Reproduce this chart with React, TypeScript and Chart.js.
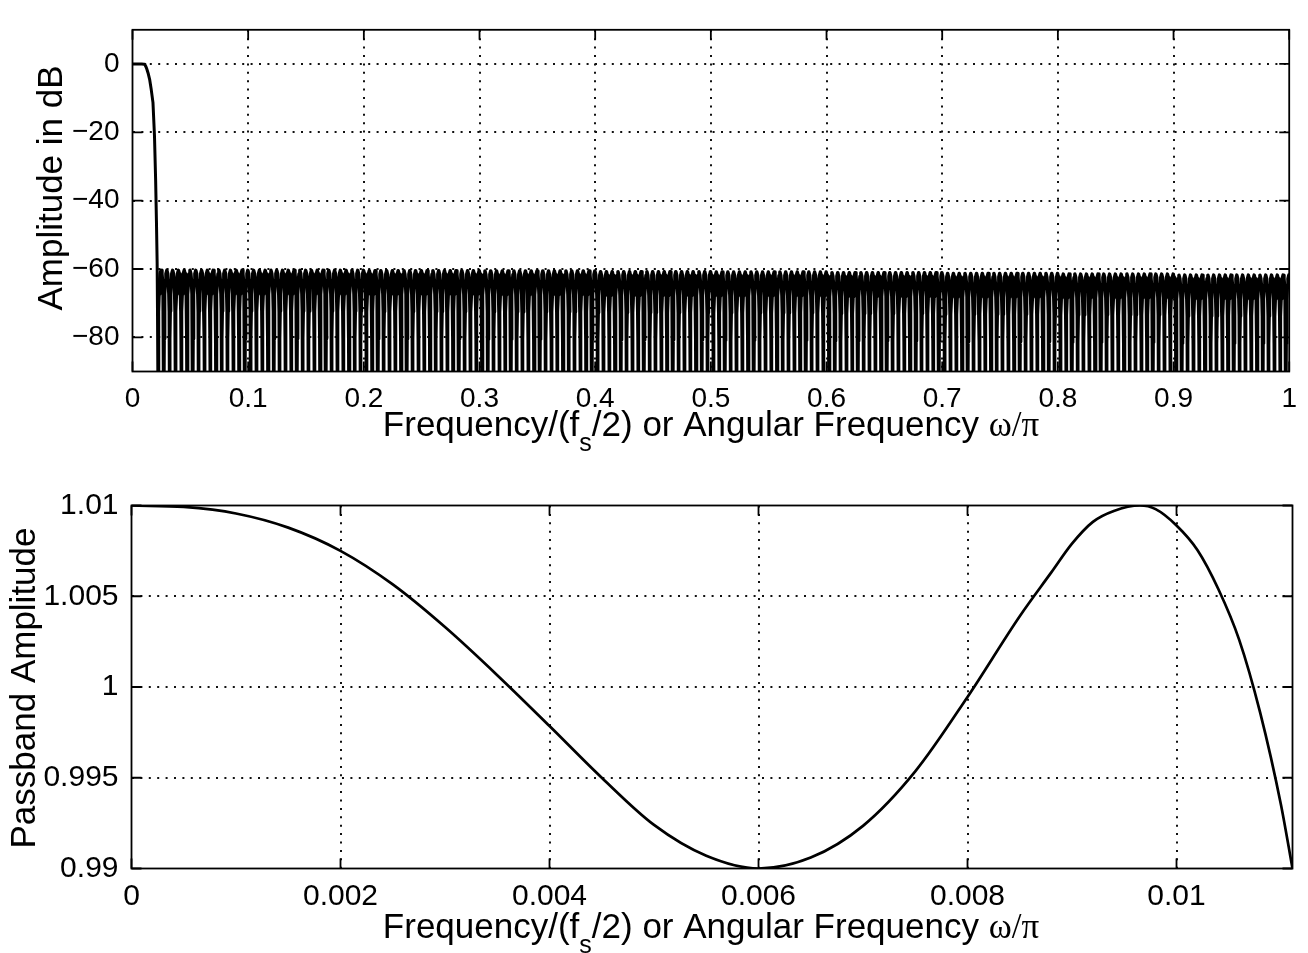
import React, { useEffect, useRef } from "react";
import { Chart, registerables } from "chart.js";

Chart.register(...registerables);

// ---------------- Top panel: magnitude response (dB) ----------------
const topXTicks = [0, 0.1, 0.2, 0.3, 0.4, 0.5, 0.6, 0.7, 0.8, 0.9, 1];
const topXTickLabels = ["0", "0.1", "0.2", "0.3", "0.4", "0.5", "0.6", "0.7", "0.8", "0.9", "1"];
const topYTicks = [-80, -60, -40, -20, 0];
const topYTickLabels = ["\u221280", "\u221260", "\u221240", "\u221220", "0"];
const topXRange = [0, 1];
const topYRange = [-90, 10];

// passband + transition band
const passTransFreq = [0, 0.004, 0.008, 0.01, 0.0108, 0.0115, 0.0123, 0.0135, 0.0148, 0.0162, 0.0177, 0.019, 0.02, 0.0207, 0.0213, 0.0222];
const passTransDb = [0, 0, 0, -0.05, -0.3, -0.7, -1.4, -2.7, -4.5, -7.5, -11.3, -21, -34, -46, -58, -100];

// stopband ripple: first null, lobe spacing, lobe peak level per 0.1 band, lobe shape
const stopFirstNull = 0.0222;
const stopLobeWidth = 0.005;
const stopBandUpper = [0.1, 0.2, 0.3, 0.4, 0.5, 0.6, 0.7, 0.8, 0.9, 1.0];
const stopPeakDb = [-60.4, -60.4, -60.5, -60.6, -60.8, -60.9, -61.1, -61.3, -61.5, -61.8];
const lobeShapePos = [0, 0.03, 0.08, 0.15, 0.25, 0.35, 0.5, 0.65, 0.75, 0.85, 0.92, 0.97];
const lobeShapeDb = [-40, -20, -12, -7, -3, -1, 0, -1, -3, -7, -12, -20];

// ---------------- Bottom panel: passband amplitude ----------------
const botXTicks = [0, 0.002, 0.004, 0.006, 0.008, 0.01];
const botXTickLabels = ["0", "0.002", "0.004", "0.006", "0.008", "0.01"];
const botYTicks = [0.99, 0.995, 1, 1.005, 1.01];
const botYTickLabels = ["0.99", "0.995", "1", "1.005", "1.01"];
const botXRange = [0, 0.01111];
const botYRange = [0.99, 1.01];

const passbandFreq = [
  0, 0.0005, 0.001, 0.0015, 0.002, 0.0025, 0.003, 0.0035, 0.004, 0.0045, 0.005, 0.0055, 0.006,
  0.0065, 0.007, 0.0075, 0.008, 0.0085, 0.0088, 0.009, 0.0092, 0.0094, 0.00965, 0.0098, 0.01,
  0.0102, 0.0104, 0.0106, 0.0108, 0.011, 0.01111,
];
const passbandAmp = [
  1.01, 1.00992, 1.00956, 1.00878, 1.0075, 1.00565, 1.0033, 1.00065, 0.99785, 0.995, 0.9924, 0.9907, 0.99,
  0.9906, 0.99235, 0.99535, 0.99945, 1.0039, 1.0063, 1.0079, 1.0091, 1.0097, 1.01, 1.0098, 1.0089,
  1.00755, 1.0054, 1.0026, 0.9986, 0.9935, 0.99,
];

const yTitleTop = "Amplitude in dB";
const yTitleBottom = "Passband Amplitude";

const SANS = "'Liberation Sans', Arial, Helvetica, sans-serif";
const SERIF = "'Liberation Serif', 'Times New Roman', serif";

type Part = { t: string; font: string; dy: number };
const xTitleParts: Part[] = [
  { t: "Frequency/(f", font: `35px ${SANS}`, dy: 0 },
  { t: "s", font: `25px ${SANS}`, dy: 15 },
  { t: "/2) or Angular Frequency ", font: `35px ${SANS}`, dy: 0 },
  { t: "\u03c9/\u03c0", font: `35px ${SERIF}`, dy: 0 },
];

function buildTransition() {
  return passTransFreq.map((f, i) => ({ x: f, y: passTransDb[i] }));
}

function buildStopband() {
  const pts: { x: number; y: number }[] = [];
  for (let k = 0; ; k++) {
    const f0 = stopFirstNull + k * stopLobeWidth;
    if (f0 > topXRange[1] + stopLobeWidth) break;
    let seg = stopBandUpper.findIndex((u) => f0 + stopLobeWidth / 2 <= u);
    if (seg < 0) seg = stopPeakDb.length - 1;
    const peak = stopPeakDb[seg];
    lobeShapePos.forEach((t, j) => {
      pts.push({ x: f0 + t * stopLobeWidth, y: peak + lobeShapeDb[j] });
    });
  }
  return pts;
}

type FrameCfg = {
  xTicks: number[];
  yTicks: number[];
  yTitle: string;
  yTitleX: number;
  yTitleY: number;
  xTitleCenter: number;
  xTitleBaseline: number;
};

function makeFramePlugin(cfg: FrameCfg) {
  return {
    id: "frame",
    afterDatasetsDraw(chart: any) {
      const { ctx, chartArea: a, scales } = chart;
      const xs = scales.x;
      const ys = scales.y;
      const L = 10;
      ctx.save();
      ctx.strokeStyle = "#000";
      ctx.lineWidth = 1.8;
      ctx.beginPath();
      cfg.xTicks.forEach((v) => {
        const px = xs.getPixelForValue(v);
        ctx.moveTo(px, a.bottom);
        ctx.lineTo(px, a.bottom - L);
        ctx.moveTo(px, a.top);
        ctx.lineTo(px, a.top + L);
      });
      cfg.yTicks.forEach((v) => {
        const py = ys.getPixelForValue(v);
        ctx.moveTo(a.left, py);
        ctx.lineTo(a.left + L, py);
        ctx.moveTo(a.right, py);
        ctx.lineTo(a.right - L, py);
      });
      ctx.stroke();
      ctx.strokeRect(a.left, a.top, a.right - a.left, a.bottom - a.top);
      ctx.restore();
    },
    afterDraw(chart: any) {
      const { ctx } = chart;
      ctx.save();
      ctx.fillStyle = "#000";
      ctx.save();
      ctx.translate(cfg.yTitleX, cfg.yTitleY);
      ctx.rotate(-Math.PI / 2);
      ctx.font = `35px ${SANS}`;
      ctx.textAlign = "center";
      ctx.textBaseline = "alphabetic";
      ctx.fillText(cfg.yTitle, 0, 0);
      ctx.restore();
      ctx.textAlign = "left";
      ctx.textBaseline = "alphabetic";
      let total = 0;
      const widths = xTitleParts.map((p) => {
        ctx.font = p.font;
        const w = ctx.measureText(p.t).width;
        total += w;
        return w;
      });
      let x = cfg.xTitleCenter - total / 2;
      xTitleParts.forEach((p, i) => {
        ctx.font = p.font;
        ctx.fillText(p.t, x, cfg.xTitleBaseline + p.dy);
        x += widths[i];
      });
      ctx.restore();
    },
  };
}

function gridColor(min: number, max: number) {
  return (c: any) => {
    const v = c.tick ? c.tick.value : NaN;
    if (Math.abs(v - min) < 1e-9 || Math.abs(v - max) < 1e-9) return "rgba(0,0,0,0)";
    return "#111";
  };
}

function makeScales(
  xr: number[], yr: number[], xt: number[], yt: number[], xl: string[], yl: string[],
  yWidth: number, xHeight: number, tickFont: number, xPad: number
) {
  return {
    x: {
      type: "linear",
      position: "bottom",
      min: xr[0],
      max: xr[1],
      afterBuildTicks: (s: any) => { s.ticks = xt.map((v) => ({ value: v })); },
      afterFit: (s: any) => { s.height = xHeight; },
      ticks: {
        autoSkip: false,
        maxRotation: 0,
        minRotation: 0,
        padding: xPad,
        color: "#000",
        font: { family: SANS, size: tickFont },
        callback: (_v: any, i: number) => xl[i],
      },
      grid: { color: gridColor(xr[0], xr[1]), lineWidth: 2, drawTicks: false },
      border: { display: false, dash: [2, 6.4] },
    },
    y: {
      type: "linear",
      position: "left",
      min: yr[0],
      max: yr[1],
      afterBuildTicks: (s: any) => { s.ticks = yt.map((v) => ({ value: v })); },
      afterFit: (s: any) => { s.width = yWidth; },
      ticks: {
        autoSkip: false,
        padding: 13,
        color: "#000",
        font: { family: SANS, size: tickFont },
        callback: (_v: any, i: number) => yl[i],
      },
      grid: { color: gridColor(yr[0], yr[1]), lineWidth: 2, drawTicks: false },
      border: { display: false, dash: [2, 6.4] },
    },
  };
}

export default function App() {
  const topRef = useRef<HTMLCanvasElement>(null);
  const botRef = useRef<HTMLCanvasElement>(null);

  useEffect(() => {
    const topChart = new Chart(topRef.current as HTMLCanvasElement, {
      type: "line",
      data: {
        datasets: [
          {
            data: buildTransition(),
            borderColor: "#000",
            borderWidth: 3,
            pointRadius: 0,
            tension: 0,
            borderJoinStyle: "round",
            clip: 0,
          } as any,
          {
            data: buildStopband(),
            borderColor: "#000",
            borderWidth: 3.5,
            pointRadius: 0,
            tension: 0,
            borderJoinStyle: "round",
            clip: 0,
          } as any,
        ],
      },
      options: {
        responsive: false,
        animation: false,
        devicePixelRatio: 1,
        events: [],
        layout: { padding: { left: 0, right: 13, top: 6.5, bottom: 0 } },
        plugins: { legend: { display: false }, tooltip: { enabled: false } },
        scales: makeScales(topXRange, topYRange, topXTicks, topYTicks, topXTickLabels, topYTickLabels, 132.5, 98.5, 28, 11) as any,
      },
      plugins: [
        makeFramePlugin({
          xTicks: topXTicks,
          yTicks: topYTicks,
          yTitle: yTitleTop,
          yTitleX: 62,
          yTitleY: 188,
          xTitleCenter: 711,
          xTitleBaseline: 436,
        }),
      ],
    });

    const botChart = new Chart(botRef.current as HTMLCanvasElement, {
      type: "line",
      data: {
        datasets: [
          {
            data: passbandFreq.map((f, i) => ({ x: f, y: passbandAmp[i] })),
            borderColor: "#000",
            borderWidth: 2.7,
            pointRadius: 0,
            cubicInterpolationMode: "monotone",
            clip: 0,
          } as any,
        ],
      },
      options: {
        responsive: false,
        animation: false,
        devicePixelRatio: 1,
        events: [],
        layout: { padding: { left: 0, right: 15.5, top: 35.5, bottom: 0 } },
        plugins: { legend: { display: false }, tooltip: { enabled: false } },
        scales: makeScales(botXRange, botYRange, botXTicks, botYTicks, botXTickLabels, botYTickLabels, 131.5, 84.5, 30, 10) as any,
      },
      plugins: [
        makeFramePlugin({
          xTicks: botXTicks,
          yTicks: botYTicks,
          yTitle: yTitleBottom,
          yTitleX: 35,
          yTitleY: 218,
          xTitleCenter: 711,
          xTitleBaseline: 468,
        }),
      ],
    });

    return () => {
      topChart.destroy();
      botChart.destroy();
    };
  }, []);

  return (
    <div style={{ position: "absolute", left: 0, top: 0, width: 1308, height: 953, background: "#fff" }}>
      <canvas ref={topRef} width={1308} height={470} style={{ position: "absolute", left: 0, top: 0, width: 1308, height: 470 }} />
      <canvas ref={botRef} width={1308} height={483} style={{ position: "absolute", left: 0, top: 470, width: 1308, height: 483 }} />
    </div>
  );
}
